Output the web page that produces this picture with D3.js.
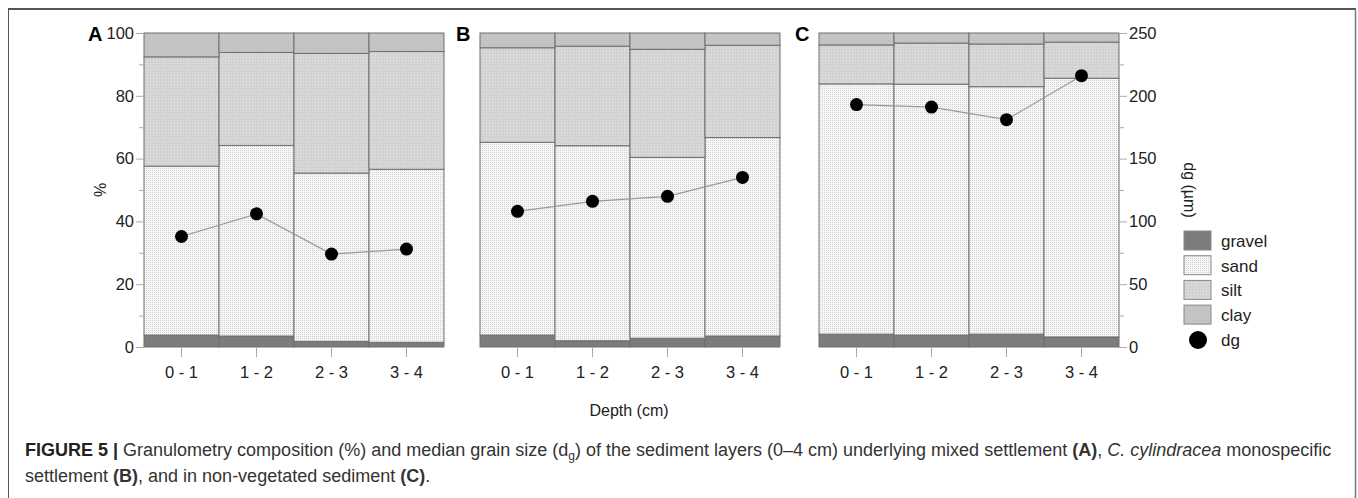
<!DOCTYPE html>
<html>
<head>
<meta charset="utf-8">
<script src="https://cdn.jsdelivr.net/npm/d3@7"></script>
<style>
  body { margin: 0; background: white; font-family: "Liberation Sans", Arial, sans-serif; }
  svg text { font-family: "Liberation Sans", Arial, sans-serif; }
</style>
</head>
<body>
<svg id="chart" width="1358" height="498"></svg>
<script>
// data
let depths = ["0 - 1", "1 - 2", "2 - 3", "3 - 4"];
let panels = ["A", "B", "C"];
let layers = ["gravel", "sand", "silt", "clay"];

// layer shares (%) per panel, bottom to top
let gravelA = [3.8, 3.5, 1.8, 1.5];
let sandA   = [53.8, 60.7, 53.6, 55.1];
let siltA   = [34.8, 29.6, 38.1, 37.5];
let clayA   = [7.6, 6.2, 6.5, 5.9];
let dgA     = [88, 106, 74, 78];

let gravelB = [3.8, 2.0, 2.8, 3.5];
let sandB   = [61.4, 62.1, 57.6, 63.2];
let siltB   = [30.1, 31.7, 34.4, 29.4];
let clayB   = [4.7, 4.2, 5.2, 3.9];
let dgB     = [108, 116, 120, 135];

let gravelC = [4.1, 3.8, 4.1, 3.2];
let sandC   = [79.7, 79.9, 78.8, 82.4];
let siltC   = [12.4, 13.1, 13.6, 11.5];
let clayC   = [3.8, 3.2, 3.5, 2.9];
let dgC     = [193, 191, 181, 216];

let pctTicks = [0, 20, 40, 60, 80, 100];
let dgTicks = [0, 50, 100, 150, 200, 250];

let panelData = [
  {gravel: gravelA, sand: sandA, silt: siltA, clay: clayA, dg: dgA},
  {gravel: gravelB, sand: sandB, silt: siltB, clay: clayB, dg: dgB},
  {gravel: gravelC, sand: sandC, silt: siltC, clay: clayC, dg: dgC}
];

let panelLeft = [144, 480, 819];
let panelWidth = 300;
let plotTop = 33, plotBottom = 347;

let svg = d3.select("#chart");

// patterns
let defs = svg.append("defs");
function dotPattern(id, bg, dot, size) {
  let p = defs.append("pattern").attr("id", id).attr("patternUnits", "userSpaceOnUse")
    .attr("width", size).attr("height", size);
  p.append("rect").attr("width", size).attr("height", size).attr("fill", bg);
  p.append("rect").attr("width", 1).attr("height", 1).attr("fill", dot);
}
dotPattern("p-sand", "#f6f6f6", "#d2d2d2", 2);
dotPattern("p-silt", "#d3d3d3", "#e6e6e6", 3);
dotPattern("p-clay", "#c6c6c6", "#bcbcbc", 2);
let fills = {gravel: "#7c7c7c", sand: "url(#p-sand)", silt: "url(#p-silt)", clay: "url(#p-clay)"};

// outer frame
svg.append("line").attr("x1", 8).attr("x2", 1356).attr("y1", 9).attr("y2", 9)
  .attr("stroke", "#555").attr("stroke-width", 2);
svg.append("line").attr("x1", 8.5).attr("x2", 8.5).attr("y1", 9).attr("y2", 498)
  .attr("stroke", "#555").attr("stroke-width", 1);
svg.append("line").attr("x1", 1355.5).attr("x2", 1355.5).attr("y1", 9).attr("y2", 498)
  .attr("stroke", "#777").attr("stroke-width", 1.5);

let yPct = d3.scaleLinear().domain([0, 100]).range([plotBottom, plotTop]);
let yDg = d3.scaleLinear().domain([0, 250]).range([plotBottom, plotTop]);

panelData.forEach(function(pd, i) {
  let x = d3.scaleBand().domain(depths).range([panelLeft[i], panelLeft[i] + panelWidth]).padding(0);
  let g = svg.append("g");

  let rows = depths.map(function(d, j) {
    return {depth: d, gravel: pd.gravel[j], sand: pd.sand[j], silt: pd.silt[j], clay: pd.clay[j]};
  });
  let stacked = d3.stack().keys(layers)(rows);

  stacked.forEach(function(s) {
    g.selectAll(".bar-" + s.key)
      .data(s)
      .enter()
      .append("rect")
      .attr("x", function(d) { return x(d.data.depth); })
      .attr("width", x.bandwidth())
      .attr("y", function(d) { return yPct(Math.min(d[1], 100)); })
      .attr("height", function(d) { return yPct(d[0]) - yPct(Math.min(d[1], 100)); })
      .attr("fill", fills[s.key])
      .attr("stroke", "#6e6e6e")
      .attr("stroke-width", 1);
  });

  // x axis ticks
  let xa = g.append("g").attr("transform", "translate(0," + plotBottom + ")")
    .call(d3.axisBottom(x).tickSize(10).tickPadding(9));
  xa.select(".domain").remove();
  xa.selectAll("line").attr("stroke", "#aaa");
  xa.selectAll("text").attr("font-size", 16.5).attr("fill", "#222");

  // dg line
  let line = d3.line()
    .x(function(d, j) { return x(depths[j]) + x.bandwidth() / 2; })
    .y(function(d) { return yDg(d); });
  g.append("path").datum(pd.dg).attr("d", line)
    .attr("fill", "none").attr("stroke", "#999").attr("stroke-width", 1.2);
  g.selectAll(".dot").data(pd.dg).enter().append("circle")
    .attr("cx", function(d, j) { return x(depths[j]) + x.bandwidth() / 2; })
    .attr("cy", function(d) { return yDg(d); })
    .attr("r", 6.5)
    .attr("fill", "#000");

  // panel label
  svg.append("text").attr("x", panelLeft[i] - (i == 0 ? 56 : 24)).attr("y", plotTop + 8)
    .attr("font-size", 20).attr("font-weight", "bold").text(panels[i]);
});

// left % axis
let ya = svg.append("g").attr("transform", "translate(144,0)")
  .call(d3.axisLeft(yPct).tickValues(pctTicks).tickSize(8).tickPadding(2));
ya.select(".domain").remove();
ya.selectAll("line").attr("stroke", "#aaa");
ya.selectAll("text").attr("font-size", 16.5).attr("fill", "#222");
let yaMinor = svg.append("g").attr("transform", "translate(144,0)")
  .call(d3.axisLeft(yPct).tickValues([10, 30, 50, 70, 90]).tickSize(5).tickFormat(""));
yaMinor.select(".domain").remove();
yaMinor.selectAll("line").attr("stroke", "#aaa");

svg.append("text").attr("transform", "translate(106,190) rotate(-90)")
  .attr("text-anchor", "middle").attr("font-size", 16).attr("fill", "#222").text("%");

// right dg axis
let yr = svg.append("g").attr("transform", "translate(1119,0)")
  .call(d3.axisRight(yDg).tickValues(dgTicks).tickSize(8).tickPadding(2));
yr.select(".domain").remove();
yr.selectAll("line").attr("stroke", "#aaa");
yr.selectAll("text").attr("font-size", 16.5).attr("fill", "#222");
let yrMinor = svg.append("g").attr("transform", "translate(1119,0)")
  .call(d3.axisRight(yDg).tickValues([25, 75, 125, 175, 225]).tickSize(5).tickFormat(""));
yrMinor.select(".domain").remove();
yrMinor.selectAll("line").attr("stroke", "#aaa");

svg.append("text").attr("transform", "translate(1184,190) rotate(90)")
  .attr("text-anchor", "middle").attr("font-size", 16).attr("fill", "#222").text("dg (µm)");

svg.append("text").attr("x", 629).attr("y", 416).attr("text-anchor", "middle")
  .attr("font-size", 16).attr("fill", "#222").text("Depth (cm)");

// legend
let legItems = layers.slice();
let leg = svg.append("g");
leg.selectAll(".lr").data(legItems).enter().append("rect")
  .attr("x", 1184).attr("y", function(d, k) { return 231 + k * 24.7; })
  .attr("width", 27).attr("height", 19)
  .attr("fill", function(d) { return fills[d]; })
  .attr("stroke", "#888");
leg.selectAll(".lt").data(legItems.concat(["dg"])).enter().append("text")
  .attr("x", 1221).attr("y", function(d, k) { return 247 + k * 24.7; })
  .attr("font-size", 17).attr("fill", "#222").text(function(d) { return d; });
leg.append("circle").attr("cx", 1198).attr("cy", 340).attr("r", 9).attr("fill", "#000");

// caption
let cap = svg.append("text").attr("x", 25).attr("y", 456).attr("font-size", 18).attr("fill", "#333");
cap.append("tspan").attr("font-weight", "bold").attr("fill", "#222").text("FIGURE 5 | ");
cap.append("tspan").text("Granulometry composition (%) and median grain size (d");
cap.append("tspan").attr("font-size", 12).attr("dy", 4).text("g");
cap.append("tspan").attr("dy", -4).text(") of the sediment layers (0–4 cm) underlying mixed settlement ");
cap.append("tspan").attr("font-weight", "bold").text("(A)");
cap.append("tspan").text(", ");
cap.append("tspan").attr("font-style", "italic").text("C. cylindracea");
cap.append("tspan").text(" monospecific");
let cap2 = svg.append("text").attr("x", 25).attr("y", 482).attr("font-size", 18).attr("fill", "#333");
cap2.append("tspan").text("settlement ");
cap2.append("tspan").attr("font-weight", "bold").text("(B)");
cap2.append("tspan").text(", and in non-vegetated sediment ");
cap2.append("tspan").attr("font-weight", "bold").text("(C)");
cap2.append("tspan").text(".");
</script>
</body>
</html>
